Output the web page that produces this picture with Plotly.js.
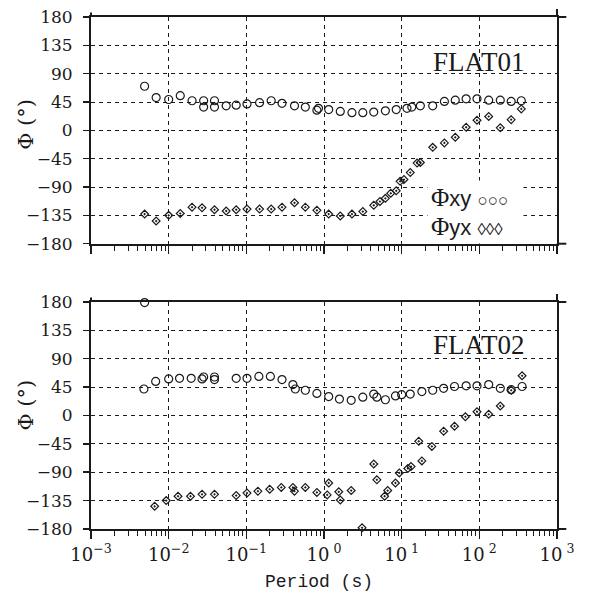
<!DOCTYPE html>
<html>
<head>
<meta charset="utf-8">
<script src="https://cdn.plot.ly/plotly-3.0.1.min.js"></script>
<style>html,body{margin:0;padding:0;background:#fff;}#chart{width:594px;height:592px;}</style>
</head>
<body>
<div id="chart"></div>
<script>
// ---- Data (period in seconds, phase in degrees) ----
// FLAT01
var periodXY1 = [0.0049,0.0069,0.0100,0.0141,0.0200,0.0282,0.0282,0.0389,0.0389,0.055,0.074,0.102,0.148,0.209,0.288,0.417,0.575,0.81,0.85,1.15,1.62,2.29,3.16,4.37,6.17,8.51,11.7,13.5,17.4,25.1,35.5,49,67.6,93.3,132,186,257,347];
var phaseXY1  = [70,52,49,55,47,47,37,47,37,39,40,42,44,47,43,39,37,32,35,33,30,28,28,29,31,33,35,37,39,39,46,48,50,50,48,48,46,47];
var periodYX1 = [0.0049,0.0069,0.0100,0.0141,0.0200,0.0269,0.0389,0.055,0.074,0.102,0.148,0.209,0.288,0.417,0.575,0.81,1.15,1.62,2.29,3.16,4.37,5.25,6.17,7.24,8.51,9.55,10.7,12.9,15.8,17.4,25.1,35.5,49,67.6,93.3,132,186,257,347];
var phaseYX1  = [-133,-144,-135,-132,-122,-123,-126,-128,-126,-125,-125,-125,-122,-115,-122,-127,-133,-136,-133,-129,-119,-113,-108,-100,-96,-81,-78,-67,-52,-51,-27,-20,-11,5,16,22,4,17,34];
// FLAT02
var periodXY2 = [0.0049,0.0048,0.0068,0.0100,0.0138,0.0195,0.0269,0.0282,0.0389,0.0389,0.074,0.102,0.145,0.204,0.288,0.398,0.427,0.575,0.81,1.15,1.58,2.24,3.16,4.37,4.79,6.17,8.32,10.0,12.9,18.2,25.1,34.7,47.9,67.6,93.3,132,186,257,355];
var phaseXY2  = [179,42,54,58,59,59,58,61,61,57,59,59,62,62,57,49,42,40,35,30,26,24,29,34,29,25,31,33,34,38,40,43,46,47,47,49,43,41,46];
var periodYX2 = [0.0066,0.0093,0.0132,0.0191,0.0269,0.0389,0.074,0.102,0.141,0.200,0.282,0.398,0.417,0.575,0.81,1.10,1.15,1.55,1.62,2.24,3.09,4.37,4.79,6.03,6.61,8.32,9.33,12.0,13.2,16.6,18.2,24.5,34.7,47.9,66.1,93.3,132,186,257,355];
var phaseYX2  = [-144,-135,-128,-128,-125,-125,-127,-123,-120,-117,-114,-114,-120,-114,-122,-126,-107,-121,-134,-119,-178,-77,-102,-128,-119,-107,-91,-84,-81,-41,-72,-49,-25,-17,-2,6,2,15,40,63];

// ---- Tick labels ----
var decadeVals = [0.001,0.01,0.1,1,10,100,1000];
var decadeText = ['10<sup>\u22123</sup>','10<sup>\u22122</sup>','10<sup>\u22121</sup>','10<sup> 0</sup>','10<sup> 1</sup>','10<sup> 2</sup>','10<sup> 3</sup>'];
var phaseTicks = [-180,-135,-90,-45,0,45,90,135,180];
var siteNames = ['FLAT01','FLAT02'];

var minorVals = [];
for (var d = 0; d < decadeVals.length - 1; d++) {
  for (var m = 2; m <= 9; m++) minorVals.push(decadeVals[d] * m);
}

var ink = '#1a1a1a';
function circleTrace(x, y, xa, ya) {
  return {x: x, y: y, xaxis: xa, yaxis: ya, type: 'scatter', mode: 'markers', cliponaxis: false,
    marker: {symbol: 'circle-open', size: 8, color: ink, line: {width: 1.2, color: ink}}, showlegend: false, hoverinfo: 'skip'};
}
function diamondTrace(x, y, xa, ya) {
  return {x: x, y: y, xaxis: xa, yaxis: ya, type: 'scatter', mode: 'markers', cliponaxis: false,
    marker: {symbol: 'diamond-open-dot', size: 6, color: ink, line: {width: 1.2, color: ink}}, showlegend: false, hoverinfo: 'skip'};
}

var data = [
  circleTrace(periodXY1, phaseXY1, 'x', 'y'),
  diamondTrace(periodYX1, phaseYX1, 'x', 'y'),
  circleTrace(periodXY2, phaseXY2, 'x2', 'y2'),
  diamondTrace(periodYX2, phaseYX2, 'x2', 'y2')
];

var tickFont = {family: 'DejaVu Serif', size: 17, color: ink};
function xAxis(anchor, labels) {
  return {
    type: 'log', range: [-3, 3], anchor: anchor, domain: [0, 1],
    tickmode: 'array', tickvals: decadeVals, ticktext: decadeText, showticklabels: labels,
    ticks: 'outside', ticklen: 8, tickwidth: 1.5, tickcolor: ink,
    minor: {tickmode: 'array', tickvals: minorVals, ticks: 'outside', ticklen: 5, tickwidth: 1, tickcolor: ink, showgrid: false},
    showgrid: true, gridcolor: ink, gridwidth: 1, griddash: '4px,4px',
    showline: true, linewidth: 2, linecolor: ink, mirror: true, zeroline: false,
    tickfont: {family: 'DejaVu Serif', size: 18, color: ink}
  };
}
function yAxis(anchor, domain) {
  return {
    range: [-180, 180], anchor: anchor, domain: domain,
    tickmode: 'array', tickvals: phaseTicks,
    ticks: 'outside', ticklen: 6, tickwidth: 1.5, tickcolor: ink, ticklabelstandoff: 7,
    showgrid: true, gridcolor: ink, gridwidth: 1, griddash: '4px,4px',
    showline: true, linewidth: 2, linecolor: ink, mirror: true, zeroline: false,
    tickfont: tickFont
  };
}

function ext(xref, yref, x0, y0, x1, y1) {
  return {type: 'line', xref: xref, yref: yref, x0: x0, y0: y0, x1: x1, y1: y1, line: {color: ink, width: 2}};
}
var shapes = [];
[['x domain','y domain'],['x2 domain','y2 domain']].forEach(function (r) {
  shapes.push(ext(r[0], r[1], 1, 1, 1.02, 1));
  shapes.push(ext(r[0], r[1], 1, 1, 1, 1.035));
  shapes.push(ext(r[0], r[1], 1, 0, 1.02, 0));
  shapes.push(ext(r[0], r[1], 1, 0, 1, -0.025));
  shapes.push(ext(r[0], r[1], 0, 1, 0, 1.02));
});

var legendText =
  '<span style="font-family:Liberation Serif;font-size:25px">\u03A6</span>xy ' +
  '<span style="font-size:17px">\u25CB\u25CB\u25CB</span>  <br>' +
  '<span style="font-family:Liberation Serif;font-size:25px">\u03A6</span>yx ' +
  '<span style="font-size:17px">\u25CA\u25CA\u25CA</span>  ';

var annotations = [
  {xref: 'paper', yref: 'y', x: 0.9356, y: 109, xanchor: 'right', yanchor: 'middle', showarrow: false,
   text: siteNames[0], font: {family: 'Liberation Serif', size: 27, color: ink}},
  {xref: 'paper', yref: 'y2', x: 0.9356, y: 112, xanchor: 'right', yanchor: 'middle', showarrow: false,
   text: siteNames[1], font: {family: 'Liberation Serif', size: 27, color: ink}},
  {xref: 'paper', yref: 'y', x: -0.14, y: 10, xanchor: 'center', yanchor: 'middle', showarrow: false, textangle: -90,
   text: '\u03A6 (\u00B0)', font: {family: 'DejaVu Serif', size: 21, color: ink}},
  {xref: 'paper', yref: 'y2', x: -0.14, y: 17, xanchor: 'center', yanchor: 'middle', showarrow: false, textangle: -90,
   text: '\u03A6 (\u00B0)', font: {family: 'DejaVu Serif', size: 21, color: ink}},
  {xref: 'paper', yref: 'paper', x: 0.49, y: 0, yshift: -53, xanchor: 'center', yanchor: 'middle', showarrow: false,
   text: 'Period (s)', font: {family: 'Liberation Mono', size: 18, color: ink}},
  {xref: 'paper', yref: 'y', x: 0.72, y: -129, xanchor: 'left', yanchor: 'middle', showarrow: false, align: 'left',
   bgcolor: '#ffffff', borderpad: 3,
   text: legendText,
   font: {family: 'Liberation Sans', size: 22, color: ink}}
];

var layout = {
  width: 594, height: 592,
  margin: {l: 91, r: 37, t: 17, b: 63},
  paper_bgcolor: '#ffffff', plot_bgcolor: '#ffffff',
  showlegend: false,
  xaxis: xAxis('y', false),
  yaxis: yAxis('x', [0.5572, 1]),
  xaxis2: xAxis('y2', true),
  yaxis2: yAxis('x2', [0, 0.4434]),
  shapes: shapes,
  annotations: annotations
};

Plotly.newPlot('chart', data, layout, {staticPlot: true, displayModeBar: false});
</script>
</body>
</html>
